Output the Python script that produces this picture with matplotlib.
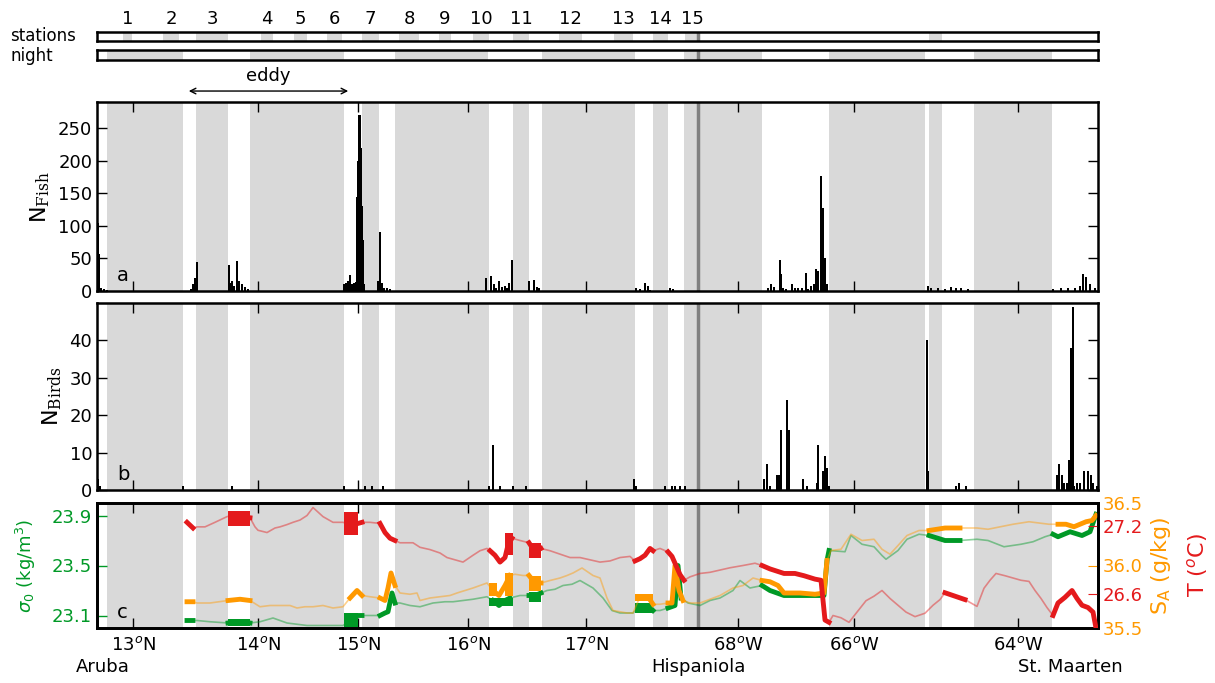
import numpy as np
import matplotlib.pyplot as plt

# track distance along cruise (arbitrary units, 0..1001)
night_spans = [(10, 86), (153, 247), (298, 391), (445, 538), (587, 665), (732, 828), (877, 955)]
station_spans = [(26, 35), (66, 82), (99, 131), (164, 176), (197, 210), (230, 245), (265, 282),
                 (302, 322), (342, 354), (376, 392), (416, 432), (462, 485), (517, 536),
                 (556, 571), (588, 603), (832, 845)]
station_names = [str(i) for i in range(1, 16)]
hispaniola_x = 601

tick_pos = [36, 161, 261, 371, 489, 641, 757, 921]
tick_labels = ['13$^o$N', '14$^o$N', '15$^o$N', '16$^o$N', '17$^o$N', '68$^o$W', '66$^o$W', '64$^o$W']
places = ['Aruba', 'Hispaniola', 'St. Maarten']
places_x = [6, 601, 973]

fish_x = [1, 2, 4, 7, 10, 94, 96, 98, 100, 132, 133, 135, 137, 140, 142, 145, 148, 151,
          247, 249, 251, 253, 255, 257, 259, 260, 261, 262, 263, 264, 265, 266, 267,
          281, 283, 285, 287, 290, 293, 389, 394, 397, 399, 402, 405, 408, 410, 412, 415,
          432, 437, 440, 442, 539, 543, 548, 551, 553, 573, 576,
          671, 674, 677, 683, 684, 686, 689, 695, 698, 701, 705, 709, 711, 714, 717, 719,
          721, 724, 726, 728, 730, 831, 834, 841, 848, 854, 859, 864, 871,
          956, 964, 971, 978, 983, 986, 989, 993, 998]
fish_n = [104, 57, 5, 3, 2, 3, 11, 20, 44, 40, 12, 16, 8, 46, 15, 10, 6, 3,
          11, 12, 15, 25, 11, 12, 14, 145, 200, 270, 270, 220, 130, 78, 10,
          16, 90, 12, 5, 4, 3, 20, 23, 11, 4, 16, 6, 8, 5, 12, 48,
          16, 17, 6, 5, 4, 3, 12, 7, 2, 4, 3,
          5, 11, 6, 48, 26, 4, 3, 10, 4, 4, 5, 28, 3, 8, 11, 34,
          31, 177, 127, 51, 10, 7, 4, 4, 3, 6, 4, 4, 3,
          3, 4, 4, 5, 7, 26, 21, 11, 5]

bird_x = [1, 3, 86, 135, 247, 268, 275, 286, 392, 396, 403, 416, 429, 537, 539,
          568, 575, 578, 583, 588, 667, 670, 673, 680, 682, 684, 690, 692, 706, 710,
          720, 721, 726, 728, 730, 732, 830, 831, 859, 862, 869,
          960, 962, 965, 967, 970, 972, 974, 976, 977, 980, 983, 987, 991, 994, 996, 1000]
bird_n = [3, 1, 1, 1, 1, 1, 1, 1, 1, 12, 1, 1, 1, 3, 1,
          1, 1, 1, 1, 1, 3, 7, 1, 4, 4, 16, 24, 16, 3, 1,
          2, 12, 5, 9, 6, 1, 40, 5, 1, 2, 1,
          4, 7, 4, 2, 2, 8, 38, 49, 1, 2, 2, 5, 5, 4, 2, 1]

temp_x = [90, 96, 100, 108, 118, 130, 135, 143, 153, 158, 161, 170, 178, 183, 190, 196, 203,
          210, 216, 221, 226, 236, 246, 253, 261, 265, 273, 283, 288, 293, 298, 303, 316,
          323, 333, 343, 350, 358, 366, 376, 383, 390, 393, 398, 403, 408, 411, 415, 423,
          432, 438, 444, 453, 463, 473, 483, 493, 503, 513, 523, 533, 538, 543, 548, 553,
          556, 563, 571, 575, 579, 583, 587, 593, 603, 613, 623, 633, 646, 658, 665, 673,
          687, 698, 707, 718, 724, 728, 732, 736, 744, 752, 760, 769, 777, 785, 793, 801,
          809, 818, 828, 836, 843, 848, 858, 868, 880, 887, 893, 899, 908, 916, 924, 932,
          938, 944, 950, 956, 961, 968, 975, 980, 985, 991, 996, 999]
temp_val = [27.23, 27.18, 27.19, 27.19, 27.23, 27.28, 27.29, 27.28, 27.27, 27.19, 27.16,
            27.14, 27.18, 27.19, 27.21, 27.23, 27.25, 27.29, 27.36, 27.32, 27.28, 27.23,
            27.23, 27.21, 27.22, 27.23, 27.23, 27.22, 27.14, 27.09, 27.07, 27.05, 27.05,
            27.01, 26.99, 26.96, 26.92, 26.90, 26.88, 26.94, 26.98, 27.00, 26.98, 26.94,
            26.88, 26.92, 27.03, 27.09, 27.07, 27.05, 26.97, 27.00, 26.98, 26.95, 26.92,
            26.92, 26.90, 26.88, 26.89, 26.92, 26.93, 26.89, 26.91, 26.94, 27.00, 26.98,
            27.00, 26.97, 26.93, 26.85, 26.77, 26.72, 26.75, 26.78, 26.79, 26.81, 26.83,
            26.85, 26.87, 26.85, 26.82, 26.78, 26.78, 26.76, 26.73, 26.72, 26.37, 26.35,
            26.41, 26.39, 26.35, 26.44, 26.54, 26.58, 26.63, 26.56, 26.50, 26.44, 26.40,
            26.43, 26.50, 26.55, 26.61, 26.58, 26.55, 26.49, 26.65, 26.72, 26.78, 26.76,
            26.74, 26.72, 26.71, 26.63, 26.56, 26.48, 26.41, 26.52, 26.57, 26.63, 26.56,
            26.50, 26.48, 26.44, 26.30]

sal_x = [90, 96, 100, 113, 131, 143, 153, 163, 173, 183, 193, 200, 208, 216, 226, 236, 246,
         253, 260, 265, 273, 283, 288, 291, 294, 298, 303, 313, 320, 323, 333, 343, 353,
         360, 368, 376, 390, 396, 402, 408, 413, 418, 426, 432, 438, 444, 453, 463, 470,
         476, 485, 496, 503, 510, 516, 523, 530, 536, 543, 551, 556, 563, 571, 575, 578,
         582, 586, 593, 603, 613, 623, 636, 646, 656, 665, 673, 681, 687, 703, 718, 727,
         730, 734, 744, 754, 765, 777, 785, 793, 801, 810, 822, 832, 848, 863, 880, 891,
         916, 932, 952, 961, 969, 977, 983, 989, 995, 999]
sal_val = [35.71, 35.71, 35.70, 35.70, 35.72, 35.73, 35.72, 35.67, 35.68, 35.68, 35.68,
           35.66, 35.67, 35.67, 35.68, 35.66, 35.67, 35.74, 35.80, 35.76, 35.75, 35.74,
           35.72, 35.82, 35.94, 35.84, 35.78, 35.77, 35.78, 35.72, 35.74, 35.75, 35.76,
           35.78, 35.80, 35.82, 35.86, 35.80, 35.76, 35.84, 35.92, 35.93, 35.92, 35.92,
           35.86, 35.86, 35.88, 35.90, 35.92, 35.94, 35.98, 35.92, 35.90, 35.74, 35.64,
           35.63, 35.62, 35.62, 35.75, 35.75, 35.69, 35.69, 35.70, 35.70, 36.00, 35.80,
           35.72, 35.70, 35.70, 35.73, 35.76, 35.82, 35.84, 35.90, 35.88, 35.87, 35.84,
           35.78, 35.78, 35.77, 35.78, 36.04, 36.12, 36.13, 36.25, 36.20, 36.21, 36.13,
           36.09, 36.16, 36.24, 36.28, 36.28, 36.30, 36.30, 36.30, 36.29, 36.33, 36.35,
           36.33, 36.33, 36.33, 36.31, 36.33, 36.35, 36.36, 36.40]

dens_x = [90, 96, 100, 113, 131, 143, 153, 163, 176, 190, 200, 210, 226, 236, 246, 253, 260,
          265, 273, 283, 288, 291, 295, 298, 303, 313, 323, 336, 348, 356, 366, 376, 390,
          396, 402, 408, 413, 423, 432, 438, 444, 450, 458, 466, 475, 483, 496, 506, 515,
          523, 530, 536, 543, 551, 556, 563, 571, 578, 581, 584, 591, 603, 613, 623, 636,
          643, 653, 665, 673, 687, 703, 718, 727, 730, 732, 748, 754, 765, 777, 785, 789,
          801, 810, 822, 832, 848, 863, 880, 891, 907, 924, 936, 948, 956, 961, 973, 985,
          993, 999]
dens_val = [23.06, 23.06, 23.06, 23.05, 23.04, 23.05, 23.04, 23.05, 23.08, 23.04, 23.03,
            23.02, 23.02, 23.02, 23.02, 23.06, 23.10, 23.10, 23.10, 23.10, 23.12, 23.13,
            23.28, 23.20, 23.20, 23.18, 23.17, 23.20, 23.21, 23.21, 23.22, 23.23, 23.25,
            23.22, 23.18, 23.22, 23.24, 23.26, 23.26, 23.26, 23.28, 23.30, 23.31, 23.34,
            23.35, 23.38, 23.32, 23.24, 23.14, 23.12, 23.12, 23.12, 23.18, 23.18, 23.14,
            23.14, 23.16, 23.18, 23.50, 23.24, 23.20, 23.18, 23.22, 23.24, 23.30, 23.38,
            23.32, 23.34, 23.30, 23.26, 23.26, 23.26, 23.26, 23.54, 23.62, 23.61, 23.74,
            23.67, 23.65, 23.58, 23.55, 23.62, 23.71, 23.75, 23.74, 23.70, 23.70, 23.71,
            23.70, 23.65, 23.67, 23.69, 23.73, 23.75, 23.73, 23.77, 23.74, 23.77, 23.91]

# value spread while on station between shaded periods: (start, end, low, high)
temp_blocks = [(131, 153, 27.20, 27.33), (247, 261, 27.12, 27.32),
               (408, 416, 26.94, 27.14), (432, 444, 26.92, 27.05)]
sal_blocks = [(392, 400, 35.76, 35.86), (408, 416, 35.76, 35.94),
              (432, 444, 35.80, 35.92), (538, 556, 35.72, 35.77)]
dens_blocks = [(131, 153, 23.02, 23.07), (247, 261, 23.01, 23.12), (392, 416, 23.18, 23.24),
               (432, 444, 23.21, 23.29), (538, 556, 23.12, 23.20)]

red = '#e41a1c'
orange = '#ff9900'
green = '#009926'
shade = '#d9d9d9'

plt.rcParams['mathtext.fontset'] = 'custom'
plt.rcParams['mathtext.rm'] = 'DejaVu Serif'
plt.rcParams['mathtext.it'] = 'DejaVu Sans:italic'
plt.rcParams['mathtext.sf'] = 'DejaVu Sans'

W, H = 1215, 683
fig = plt.figure(figsize=(W / 100, H / 100), dpi=100)


def px_axes(left, top, right, bottom):
    return fig.add_axes([left / W, 1 - bottom / H, (right - left) / W, (bottom - top) / H])


def is_shaded(x):
    for lo, hi in night_spans + station_spans:
        if lo < x < hi:
            return True
    return False


def gaps_only(x, y):
    m = np.array([is_shaded(v) for v in x])
    return np.where(m, np.nan, np.array(y, dtype=float))


def style_spines(ax):
    for s in ax.spines.values():
        s.set_linewidth(1.8)


# top strips
ax_st = px_axes(97, 32, 1098, 41)
ax_ni = px_axes(97, 50, 1098, 60)
for ax, spans in ((ax_st, station_spans), (ax_ni, night_spans)):
    for lo, hi in spans:
        ax.axvspan(lo, hi, color=shade, lw=0)
    ax.axvline(hispaniola_x, color='#808080', lw=2.5)
    ax.set_xlim(0, 1001)
    ax.set_ylim(0, 1)
    ax.set_xticks([])
    ax.set_yticks([])
    style_spines(ax)

for (lo, hi), name in zip(station_spans, station_names):
    ax_st.text((lo + hi) / 2, 2.45, name, transform=ax_st.get_xaxis_transform(),
               ha='center', va='center', fontsize=13)
fig.text(10 / W, 1 - 36 / H, 'stations', va='center', fontsize=12)
fig.text(10 / W, 1 - 56 / H, 'night', va='center', fontsize=12)

axa = px_axes(97, 102, 1098, 291)
axb = px_axes(97, 303, 1098, 490)
axc = px_axes(97, 503, 1098, 628)

for ax in (axa, axb, axc):
    for lo, hi in night_spans + station_spans:
        ax.axvspan(lo, hi, color=shade, lw=0, zorder=0)
    ax.axvline(hispaniola_x, color='#808080', lw=2.5, zorder=1)
    ax.set_xlim(0, 1001)
    ax.set_xticks(tick_pos)
    ax.tick_params(direction='in', length=7, width=1, top=True, labelsize=13)
    style_spines(ax)

# fish
axa.bar(fish_x, fish_n, width=1.6, color='k', lw=0, zorder=3)
axa.set_ylim(0, 290)
axa.set_yticks([0, 50, 100, 150, 200, 250])
axa.tick_params(right=True, labelbottom=False)
axa.set_ylabel(r'N$_{\mathrm{Fish}}$', fontsize=16)
axa.text(20, 0.03, 'a', transform=axa.get_xaxis_transform(), fontsize=14, va='bottom')
axa.annotate('', xy=(254, 1.058), xytext=(89, 1.058), xycoords=axa.get_xaxis_transform(),
             arrowprops=dict(arrowstyle='<->', lw=1), annotation_clip=False)
axa.text(171, 1.14, 'eddy', transform=axa.get_xaxis_transform(), ha='center', va='center',
         fontsize=13)

# birds
axb.bar(bird_x, bird_n, width=1.6, color='k', lw=0, zorder=3)
axb.set_ylim(0, 50)
axb.set_yticks([0, 10, 20, 30, 40])
axb.tick_params(right=True, labelbottom=False)
axb.set_ylabel(r'N$_{\mathrm{Birds}}$', fontsize=16)
axb.text(20, 0.03, 'b', transform=axb.get_xaxis_transform(), fontsize=14, va='bottom')

# hydrography
ax_s = axc.twinx()
ax_t = axc.twinx()

axc.plot(dens_x, dens_val, color=green, lw=1.2, alpha=0.45, zorder=2)
axc.plot(dens_x, gaps_only(dens_x, dens_val), color=green, lw=3.5, zorder=3)
for x0, x1, lo, hi in dens_blocks:
    axc.fill_between([x0, x1], lo, hi, color=green, lw=0, zorder=3)
axc.set_ylim(23.0, 24.0)
axc.set_yticks([23.1, 23.5, 23.9])
axc.tick_params(axis='y', colors=green, right=False)
axc.tick_params(axis='x', pad=6)
axc.set_xticklabels(tick_labels)
axc.set_ylabel(r'$\sigma_{\mathsf{0}}$ (kg/m$^{\mathsf{3}}$)', color=green, fontsize=13,
               labelpad=10)
axc.text(20, 0.05, 'c', transform=axc.get_xaxis_transform(), fontsize=14, va='bottom')
for name, x in zip(places, places_x):
    axc.text(x, -0.31, name, transform=axc.get_xaxis_transform(), ha='center', va='center',
             fontsize=13)

ax_s.plot(sal_x, sal_val, color=orange, lw=1.2, alpha=0.45, zorder=2)
ax_s.plot(sal_x, gaps_only(sal_x, sal_val), color=orange, lw=3.5, zorder=3)
for x0, x1, lo, hi in sal_blocks:
    ax_s.fill_between([x0, x1], lo, hi, color=orange, lw=0, zorder=3)
ax_s.set_ylim(35.5, 36.5)
ax_s.set_yticks([35.5, 36.0, 36.5])
ax_s.tick_params(axis='y', colors=orange, direction='in', length=7, labelsize=13)
ax_s.set_ylabel(r'S$_{\mathsf{A}}$ (g/kg)', color=orange, fontsize=16)

ax_t.plot(temp_x, temp_val, color=red, lw=1.2, alpha=0.45, zorder=2)
ax_t.plot(temp_x, gaps_only(temp_x, temp_val), color=red, lw=3.5, zorder=3)
for x0, x1, lo, hi in temp_blocks:
    ax_t.fill_between([x0, x1], lo, hi, color=red, lw=0, zorder=3)
ax_t.set_ylim(26.3, 27.4)
ax_t.set_yticks([26.6, 27.2])
ax_t.tick_params(axis='y', colors=red, direction='in', length=7, labelsize=13)
ax_t.set_ylabel(r'T ($^o$C)', color=red, fontsize=16, labelpad=30)
for ax in (ax_s, ax_t):
    ax.set_xlim(0, 1001)
    style_spines(ax)

fig.savefig('out.png', dpi=100)
